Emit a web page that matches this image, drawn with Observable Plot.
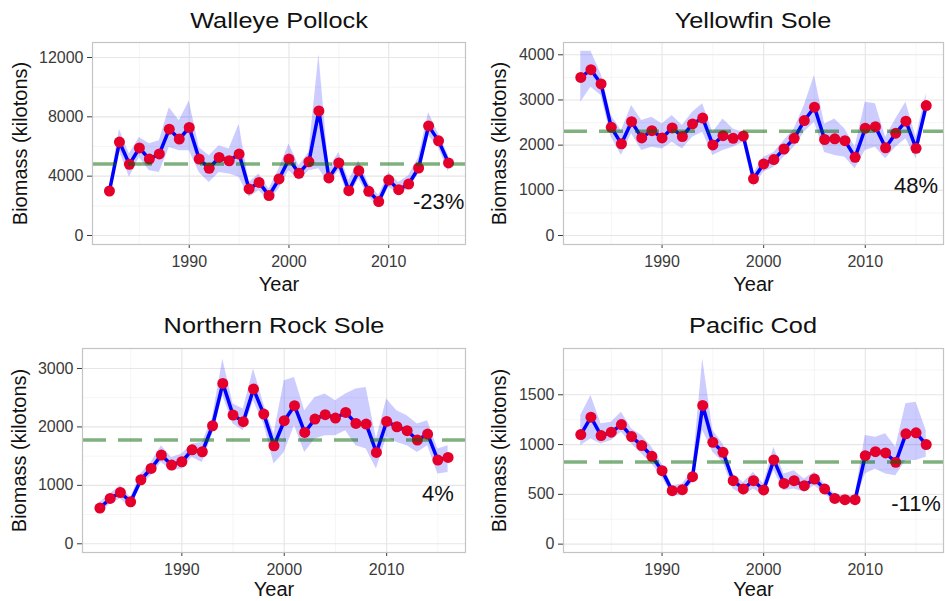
<!DOCTYPE html>
<html>
<head>
<meta charset="utf-8">
<script src="https://cdn.jsdelivr.net/npm/d3@7"></script>
<script src="https://cdn.jsdelivr.net/npm/@observablehq/plot@0.6"></script>
<style>
  html, body { margin: 0; padding: 0; background: #fff; }
  #chart { position: relative; width: 945px; height: 601px; overflow: hidden; font-family: "Liberation Sans", Arial, sans-serif; }
  .panel { position: absolute; }
  .title { position: absolute; font-size: 22px; color: #111; white-space: nowrap; transform: translateX(-50%) scaleX(1.15); line-height: 1; }
</style>
</head>
<body>
<div id="chart"></div>
<script>
// Survey years
const years = [1982, 1983, 1984, 1985, 1986, 1987, 1988, 1989, 1990, 1991, 1992, 1993,
  1994, 1995, 1996, 1997, 1998, 1999, 2000, 2001, 2002, 2003, 2004, 2005, 2006, 2007,
  2008, 2009, 2010, 2011, 2012, 2013, 2014, 2015, 2016];

// Biomass estimates (kilotons) with lower / upper interval bounds
const pollock = [3000, 6300, 4800, 5900, 5150, 5500, 7170, 6500, 7280, 5150, 4530, 5260, 5040, 5490, 3140, 3580, 2690,
  3810, 5150, 4190, 4970, 8400, 3880, 4890, 3020, 4370, 2980, 2290, 3740, 3090, 3470, 4550, 7390, 6380, 4890];
const pollockLo = [2800, 5700, 3920, 5260, 4370, 4250, 5935, 5710, 5710, 4250, 3580, 4250, 4145, 3920, 2575, 3020, 2350,
  3140, 4370, 3700, 4370, 4500, 3470, 4370, 2575, 3810, 2575, 1900, 3250, 2800, 3140, 4145, 6720, 5935, 4250];
const pollockHi = [3200, 7170, 5500, 6600, 6180, 6380, 8620, 7730, 9070, 5935, 5380, 6050, 5830, 7500, 3580, 4145, 3140,
  4480, 6160, 4700, 5600, 12200, 4480, 5600, 3700, 5040, 3470, 2690, 4250, 3580, 4030, 5260, 8290, 6830, 5380];

const yellowfin = [3500, 3670, 3355, 2395, 2030, 2520, 2160, 2320, 2160, 2380, 2190, 2470, 2600, 2005, 2210, 2150, 2200, 1255,
  1585, 1680, 1915, 2150, 2545, 2840, 2125, 2140, 2100, 1730, 2375, 2410, 1940, 2265, 2530, 1930, 2875];
const yellowfinLo = [2950, 3280, 3100, 2175, 1770, 2250, 1880, 1955, 1915, 2065, 1915, 2175, 2285, 1770, 1880, 1955, 2065, 1070,
  1400, 1510, 1730, 1955, 2285, 2505, 1840, 1770, 1730, 1475, 1880, 1955, 1700, 1955, 2140, 1700, 2655];
const yellowfinHi = [4080, 4080, 3575, 2655, 2320, 2875, 2545, 2615, 2470, 2655, 2435, 2730, 2915, 2285, 2580, 2360, 2285, 1365,
  1730, 1840, 2100, 2360, 2875, 3540, 2470, 2580, 2360, 1955, 2950, 2915, 2175, 2580, 2950, 2175, 3135];

const rockSole = [611, 776, 878, 719, 1096, 1289, 1518, 1347, 1404, 1609, 1575, 2020, 2745, 2203, 2089, 2648, 2220, 1678,
  2106, 2363, 1906, 2135, 2209, 2152, 2248, 2060, 2049, 1563, 2094, 2003, 1935, 1775, 1878, 1433, 1478];
const rockSoleLo = [508, 680, 765, 621, 993, 1164, 1392, 1250, 1279, 1478, 1392, 1878, 2534, 2049, 1935, 2448, 2049, 1364,
  1563, 2020, 1563, 1792, 1849, 1849, 1935, 1678, 1621, 1279, 1820, 1734, 1678, 1563, 1678, 1193, 1221];
const rockSoleHi = [707, 851, 993, 793, 1193, 1392, 1678, 1478, 1536, 1707, 1734, 2162, 3162, 2392, 2306, 2991, 2392, 1878,
  2790, 2847, 2277, 2505, 2563, 2448, 2563, 2648, 2676, 1792, 2477, 2277, 2191, 2049, 2106, 1621, 1678];

const cod = [1100, 1275, 1090, 1124, 1201, 1080, 990, 882, 738, 537, 547, 678, 1393, 1023, 922, 637, 554,
  637, 544, 846, 610, 637, 587, 654, 554, 459, 446, 446, 889, 929, 916, 822, 1108, 1118, 1000];
const codLo = [990, 1057, 1007, 1040, 1124, 1007, 906, 806, 671, 486, 486, 620, 1141, 922, 822, 554, 486,
  554, 486, 738, 537, 554, 520, 587, 503, 419, 403, 403, 705, 755, 705, 688, 839, 839, 872];
const codHi = [1292, 1493, 1208, 1225, 1325, 1158, 1090, 973, 806, 587, 604, 738, 1863, 1141, 1007, 705, 620,
  721, 604, 973, 705, 738, 654, 721, 604, 503, 486, 486, 1090, 1074, 1108, 973, 1410, 1426, 1141];

// Long-term mean biomass and recent change per species
const species = ["Walleye Pollock", "Yellowfin Sole", "Northern Rock Sole", "Pacific Cod"];
const means = [4815, 2310, 1775, 826];
const changes = ["-23%", "48%", "4%", "-11%"];

// Axis ticks
const xTicks = [1990, 2000, 2010];
const xMinor = [1985, 1995, 2005, 2015];
const yTicks = [[0, 4000, 8000, 12000], [0, 1000, 2000, 3000, 4000], [0, 1000, 2000, 3000], [0, 500, 1000, 1500]];
const yMinor = [[2000, 6000, 10000], [500, 1500, 2500, 3500], [500, 1500, 2500], [250, 750, 1250, 1750]];

const series = [
  [pollock, pollockLo, pollockHi],
  [yellowfin, yellowfinLo, yellowfinHi],
  [rockSole, rockSoleLo, rockSoleHi],
  [cod, codLo, codHi]
];

// Panel layout: position of each SVG on the page and its margins
const layout = [
  {left: 0,   top: 0,   width: 470, height: 300, mt: 42, mb: 56, ml: 92, mr: 5, yDomain: [-607, 13011], labelY: 2240, ylabDx: -72, yearDy: 40, titleTop: 10},
  {left: 470, top: 0,   width: 475, height: 300, mt: 42, mb: 56, ml: 93, mr: 2, yDomain: [-199, 4272], labelY: 1106, ylabDx: -64, yearDy: 40, titleTop: 10},
  {left: 0,   top: 300, width: 470, height: 301, mt: 48, mb: 49, ml: 82, mr: 5, yDomain: [-149, 3342], labelY: 861, ylabDx: -63, yearDy: 37, titleTop: 15},
  {left: 470, top: 300, width: 475, height: 301, mt: 48, mb: 49, ml: 93, mr: 2, yDomain: [-84, 1965], labelY: 403, ylabDx: -64, yearDy: 37, titleTop: 15}
];

const chart = document.getElementById("chart");
const font = "'Liberation Sans', Arial, sans-serif";

species.forEach((name, i) => {
  const [v, lo, hi] = series[i];
  const L = layout[i];
  const rows = years.map((year, k) => ({year, value: v[k], lo: lo[k], hi: hi[k]}));

  const svg = Plot.plot({
    width: L.width,
    height: L.height,
    marginTop: L.mt,
    marginBottom: L.mb,
    marginLeft: L.ml,
    marginRight: L.mr,
    style: {fontFamily: font, color: "#333", background: "transparent", overflow: "visible"},
    x: {domain: [1980.3, 2017.7]},
    y: {domain: L.yDomain},
    marks: [
      Plot.gridX(xMinor, {stroke: "#f0f0f0", strokeOpacity: 1, strokeWidth: 0.7}),
      Plot.gridY(yMinor[i], {stroke: "#f0f0f0", strokeOpacity: 1, strokeWidth: 0.7}),
      Plot.gridX(xTicks, {stroke: "#e6e6e6", strokeOpacity: 1, strokeWidth: 1.1}),
      Plot.gridY(yTicks[i], {stroke: "#e6e6e6", strokeOpacity: 1, strokeWidth: 1.1}),
      Plot.axisX(xTicks, {tickFormat: "d", tickSize: 4, tickPadding: 7, fontSize: 16, label: null, color: "#3a3a3a"}),
      Plot.axisY(yTicks[i], {tickFormat: "d", tickSize: 5, tickPadding: 4, fontSize: 16, label: null, color: "#3a3a3a"}),
      Plot.areaY(rows, {x: "year", y1: "lo", y2: "hi", fill: "blue", fillOpacity: 0.2}),
      Plot.lineY(rows, {x: "year", y: "value", stroke: "blue", strokeWidth: 3.5}),
      Plot.dot(rows, {x: "year", y: "value", r: 5.5, fill: "#e4002b"}),
      Plot.ruleY([means[i]], {stroke: "darkgreen", strokeOpacity: 0.5, strokeWidth: 3.5, strokeDasharray: "24,12"}),
      Plot.frame({stroke: "#c4c4c4", strokeWidth: 1.2}),
      Plot.text([changes[i]], {x: 2015, y: L.labelY, text: d => d, fontSize: 22, fill: "#111"}),
      Plot.text(["Year"], {text: d => d, frameAnchor: "bottom", lineAnchor: "middle", dy: L.yearDy, fontSize: 20, fill: "#111"}),
      Plot.text(["Biomass (kilotons)"], {text: d => d, frameAnchor: "left", textAnchor: "middle", lineAnchor: "middle", dx: L.ylabDx, rotate: -90, fontSize: 20, fill: "#111"})
    ]
  });

  const panel = document.createElement("div");
  panel.className = "panel";
  panel.style.left = L.left + "px";
  panel.style.top = L.top + "px";
  panel.style.width = L.width + "px";
  panel.style.height = L.height + "px";
  panel.appendChild(svg);

  const title = document.createElement("div");
  title.className = "title";
  title.textContent = name;
  title.style.left = (L.ml + (L.width - L.ml - L.mr) / 2) + "px";
  title.style.top = L.titleTop + "px";
  panel.appendChild(title);

  chart.appendChild(panel);
});
</script>
</body>
</html>
